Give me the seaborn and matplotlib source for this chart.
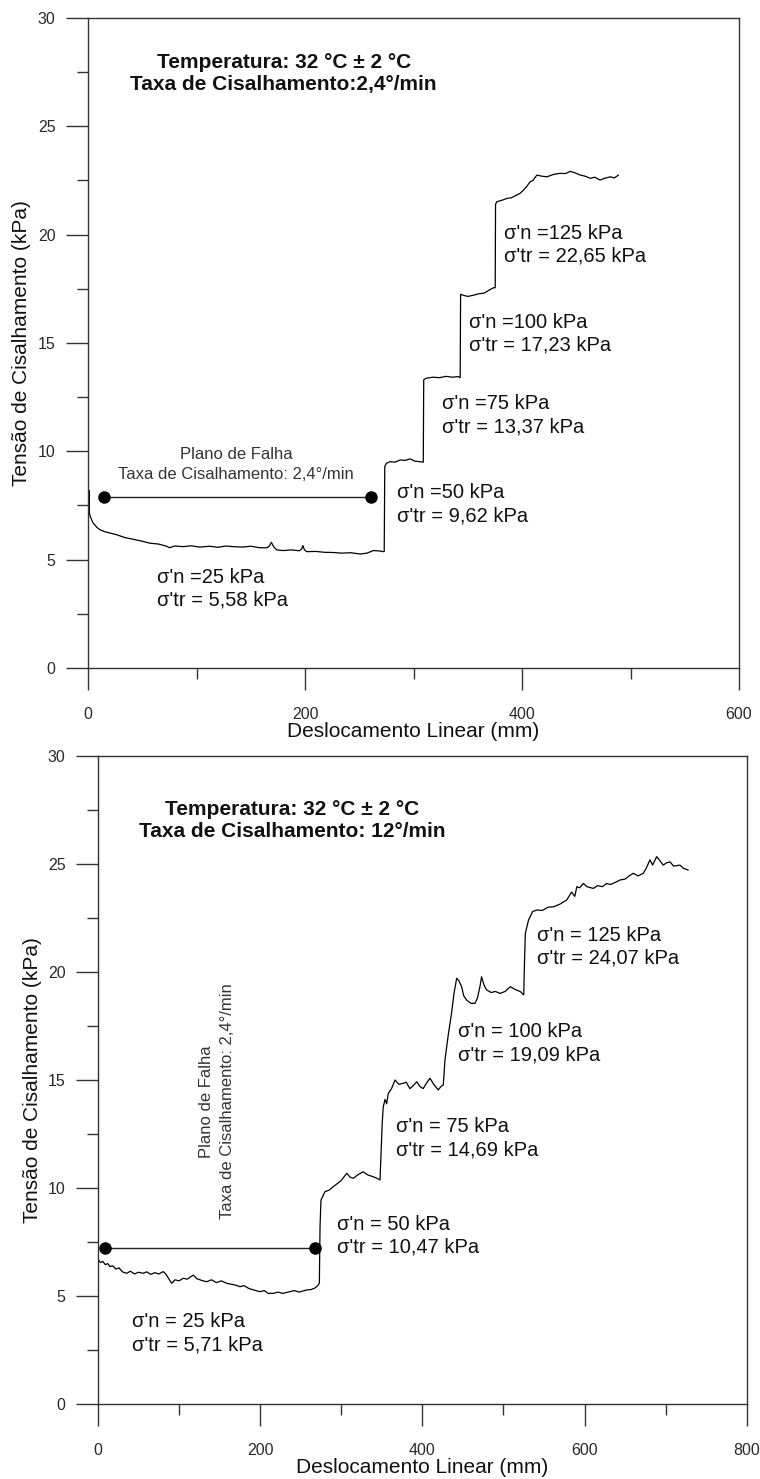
import matplotlib
matplotlib.use("Agg")
import matplotlib.pyplot as plt
import seaborn as sns
import pandas as pd
from matplotlib.ticker import MultipleLocator

# ---------------- data ----------------
top_disp = [0, 0.4, 0.8, 1.2, 2, 4.6, 8, 11, 16, 21, 26.4, 34, 41.8, 50, 57, 65, 72.5, 75, 80, 88,
            95, 103, 112, 120, 127, 134, 142, 150, 158, 165, 167, 169, 171, 174, 180, 187, 195, 197,
            198, 199.5, 201.6, 210, 218, 226, 234, 242, 251, 257, 263, 269, 272, 273, 273.5, 275,
            278.5, 283, 287.7, 292, 297, 301, 306, 309, 309.4, 312, 318, 324, 330, 336, 341, 343,
            343.4, 346, 350, 355, 360, 365, 370, 373.7, 375.3, 375.6, 376.8, 381, 386, 390, 395.3,
            398, 401.4, 404, 407.5, 410, 413.7, 418, 423, 429, 435, 440, 444.5, 449, 453.7, 458,
            463, 467, 472, 476, 481.3, 485, 489]
top_stress = [8.5, 7.3, 8.2, 7.2, 7.0, 6.7, 6.5, 6.38, 6.28, 6.22, 6.15, 6.02, 5.94, 5.85, 5.76, 5.72,
              5.62, 5.55, 5.63, 5.6, 5.64, 5.58, 5.62, 5.57, 5.63, 5.6, 5.58, 5.62, 5.55, 5.55, 5.62,
              5.8, 5.6, 5.45, 5.42, 5.45, 5.41, 5.5, 5.65, 5.45, 5.37, 5.38, 5.34, 5.33, 5.3, 5.32,
              5.26, 5.3, 5.42, 5.4, 5.37, 5.38, 9.3, 9.45, 9.52, 9.5, 9.6, 9.58, 9.65, 9.55, 9.52,
              9.5, 13.3, 13.38, 13.42, 13.4, 13.46, 13.42, 13.45, 13.4, 17.25, 17.2, 17.15, 17.2,
              17.27, 17.3, 17.45, 17.55, 17.55, 21.4, 21.52, 21.58, 21.67, 21.7, 21.83, 21.9, 22.06,
              22.2, 22.44, 22.5, 22.75, 22.7, 22.67, 22.78, 22.83, 22.82, 22.92, 22.85, 22.75, 22.7,
              22.6, 22.65, 22.52, 22.6, 22.67, 22.62, 22.75]

bot_disp = [0, 3, 6, 9, 12, 14.8, 18, 22, 26, 30, 35.4, 40, 45, 50, 55.9, 60, 65, 70, 75, 80.5, 84, 88,
            90.9, 95, 100, 105, 110, 117.5, 122, 128, 134, 140, 146, 152, 158.7, 164, 170, 175, 180,
            186, 192, 199.8, 205, 210, 216, 222, 228, 236.8, 242, 248, 257.4, 263, 268, 271.7, 273,
            273.8, 275, 279.9, 285, 290, 295, 300, 306.7, 311, 315, 320, 327, 333, 339.5, 344, 347.8,
            349, 350.5, 351.8, 354, 356, 358, 362, 366.3, 371, 376.5, 380, 384.7, 389, 393, 397, 401,
            405, 409.4, 414, 419.6, 423, 425.8, 427.9, 432, 436, 439, 442.3, 445, 448.4, 451, 454.6,
            460, 464.9, 468, 471, 473, 476, 479.3, 485, 490, 496, 502, 508.6, 514, 521, 525, 526,
            527, 531, 536, 541.4, 548, 555, 562, 570, 578, 584, 588, 590.5, 594, 598.6, 603, 610.9,
            616, 622, 627.3, 632, 638, 643.8, 650, 655, 660.2, 666, 672.5, 676, 680.7, 684, 689, 692,
            697, 701, 705.4, 710, 717.7, 722, 728]
bot_stress = [6.7, 6.55, 6.6, 6.45, 6.5, 6.36, 6.4, 6.25, 6.3, 6.12, 6.05, 6.15, 6.02, 6.1, 6.05, 6.12,
              6.0, 6.08, 6.02, 6.13, 6.0, 5.75, 5.59, 5.75, 5.7, 5.82, 5.78, 5.97, 5.8, 5.72, 5.66,
              5.75, 5.62, 5.7, 5.59, 5.55, 5.5, 5.43, 5.48, 5.35, 5.28, 5.2, 5.25, 5.12, 5.12, 5.18,
              5.12, 5.2, 5.25, 5.18, 5.28, 5.3, 5.38, 5.51, 5.6, 8.2, 9.44, 9.83, 9.9, 10.06, 10.2,
              10.35, 10.68, 10.5, 10.45, 10.6, 10.75, 10.6, 10.52, 10.45, 10.37, 11.5, 13.0, 13.76,
              14.1, 13.9, 14.38, 14.6, 15.0, 14.8, 14.85, 14.9, 14.6, 14.75, 14.92, 14.7, 14.6, 14.85,
              15.08, 14.8, 14.54, 14.7, 14.77, 15.93, 17.1, 18.09, 19.0, 19.71, 19.6, 19.32, 18.9,
              18.7, 18.55, 18.55, 18.8, 19.32, 19.78, 19.4, 19.17, 19.05, 19.1, 19.01, 19.1, 19.32,
              19.2, 19.09, 18.94, 20.5, 21.79, 22.41, 22.8, 22.87, 22.85, 23.0, 23.02, 23.15, 23.33,
              23.7, 23.5, 23.95, 23.9, 24.1, 23.95, 23.87, 24.0, 23.95, 24.1, 24.05, 24.15, 24.26,
              24.3, 24.45, 24.57, 24.45, 24.57, 24.8, 25.19, 24.95, 25.34, 25.2, 24.95, 25.05, 25.1,
              24.9, 24.95, 24.8, 24.72]

# failure-plane markers (start / end displacement, stress level)
top_plane_x = [15, 261]
top_plane_y = [7.88, 7.88]
bot_plane_x = [8.6, 267.6]
bot_plane_y = [7.21, 7.21]

top_labels = ["σ'n =25 kPa\nσ'tr = 5,58 kPa", "σ'n =50 kPa\nσ'tr = 9,62 kPa",
              "σ'n =75 kPa\nσ'tr = 13,37 kPa", "σ'n =100 kPa\nσ'tr = 17,23 kPa",
              "σ'n =125 kPa\nσ'tr = 22,65 kPa"]
bot_labels = ["σ'n = 25 kPa\nσ'tr = 5,71 kPa", "σ'n = 50 kPa\nσ'tr = 10,47 kPa",
              "σ'n = 75 kPa\nσ'tr = 14,69 kPa", "σ'n = 100 kPa\nσ'tr = 19,09 kPa",
              "σ'n = 125 kPa\nσ'tr = 24,07 kPa"]
top_title = "Temperatura: 32 °C ± 2 °C\nTaxa de Cisalhamento:2,4°/min"
bot_title = "Temperatura: 32 °C ± 2 °C\nTaxa de Cisalhamento: 12°/min"
plane_text = "Plano de Falha\nTaxa de Cisalhamento: 2,4°/min"
xlabel = "Deslocamento Linear (mm)"
ylabel = "Tensão de Cisalhamento (kPa)"

# ---------------- styling ----------------
sns.set_theme(style="ticks")
plt.rcParams["font.family"] = ["Liberation Sans", "DejaVu Sans"]

fig = plt.figure(figsize=(7.6, 14.79), dpi=100)
ax1 = fig.add_axes([0.1158, 0.54835, 0.8566, 0.43949])
ax2 = fig.add_axes([0.12895, 0.05071, 0.85355, 0.43813])


def style_axis(ax, xmax, xmaj, xmin_step):
    ax.set_xlim(0, xmax)
    ax.set_ylim(0, 30)
    ax.xaxis.set_major_locator(MultipleLocator(xmaj))
    ax.xaxis.set_minor_locator(MultipleLocator(xmin_step))
    ax.yaxis.set_major_locator(MultipleLocator(5))
    ax.yaxis.set_minor_locator(MultipleLocator(2.5))
    for s in ax.spines.values():
        s.set_visible(True)
        s.set_linewidth(1.0)
        s.set_color("#333333")
    ax.tick_params(which="major", direction="out", length=15.8, width=1.0, color="#333333",
                   labelsize=11.5, labelcolor="#2a2a2a")
    ax.tick_params(axis="y", which="major", pad=7.5)
    ax.tick_params(axis="x", which="major", pad=12)
    ax.tick_params(which="minor", direction="out", length=8, width=1.0, color="#333333")
    ax.set_xlabel(xlabel, fontsize=15, color="#111111")
    ax.set_ylabel(ylabel, fontsize=15, color="#111111")
    ax.grid(False)


# ---- top panel ----
df_top = pd.DataFrame({"x": top_disp, "y": top_stress})
sns.lineplot(data=df_top, x="x", y="y", ax=ax1, color="black", linewidth=0.9, sort=False,
             estimator=None)
ax1.plot(top_plane_x, top_plane_y, color="#222222", linewidth=1.0, marker="o",
         markersize=8, markerfacecolor="black", markeredgecolor="black")
style_axis(ax1, 600, 200, 100)
ax1.xaxis.set_label_coords(0.5, -0.083)
ax1.yaxis.set_label_coords(-0.0875, 0.5)

ax1.text(180.3, 27.44, top_title, ha="center", va="center", fontsize=15, fontweight="bold",
         linespacing=1.22, color="#111111")
ax1.text(136.4, 9.41, plane_text, ha="center", va="center", fontsize=12, color="#333333",
         linespacing=1.4)
top_pos = [(63.3, 3.66), (285.2, 7.56), (326.7, 11.66), (350.7, 15.44), (383.6, 19.52)]
for (tx, ty), lab in zip(top_pos, top_labels):
    ax1.text(tx, ty, lab, ha="left", va="center", fontsize=14.5, color="#111111",
             linespacing=1.25)

# ---- bottom panel ----
df_bot = pd.DataFrame({"x": bot_disp, "y": bot_stress})
sns.lineplot(data=df_bot, x="x", y="y", ax=ax2, color="black", linewidth=0.9, sort=False,
             estimator=None)
ax2.plot(bot_plane_x, bot_plane_y, color="#222222", linewidth=1.0, marker="o",
         markersize=8, markerfacecolor="black", markeredgecolor="black")
style_axis(ax2, 800, 200, 100)
ax2.xaxis.set_label_coords(0.5, -0.083)
ax2.yaxis.set_label_coords(-0.0863, 0.5)

ax2.text(239.8, 27.0, bot_title, ha="center", va="center", fontsize=15, fontweight="bold",
         linespacing=1.22, color="#111111")
ax2.text(146.7, 14.0, plane_text, ha="center", va="center", rotation=90, fontsize=12,
         color="#333333", linespacing=1.5)
bot_pos = [(41.5, 3.27), (294.3, 7.78), (367.5, 12.3), (444.3, 16.7), (541.8, 21.17)]
for (tx, ty), lab in zip(bot_pos, bot_labels):
    ax2.text(tx, ty, lab, ha="left", va="center", fontsize=14.5, color="#111111",
             linespacing=1.25)

fig.savefig("out.png", dpi=100, facecolor="white")
